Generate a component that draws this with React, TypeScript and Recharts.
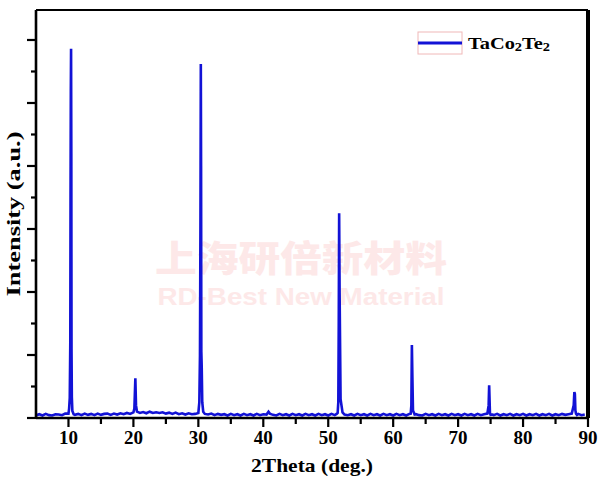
import React from 'react';
import { LineChart, Line, XAxis, YAxis, ReferenceLine, Legend, Label } from 'recharts';

const twoTheta = [
  5, 5.5, 6, 6.5, 7, 7.5, 8, 8.5, 9, 9.5, 10, 10.1, 10.2, 10.28, 10.32, 10.36, 10.4, 10.44, 10.47, 10.52, 10.6, 10.8,
  11, 11.5, 12, 12.5, 13, 13.5, 14, 14.5, 15, 15.5, 16, 16.5, 17, 17.5, 18, 18.5, 19, 19.5, 20, 20.15, 20.3, 20.4, 20.55,
  21, 21.5, 22, 22.5, 23, 23.5, 24, 24.5, 25, 25.5, 26, 26.5, 27, 27.5, 28, 28.5, 29, 29.5, 30, 30.15, 30.25, 30.32, 30.38,
  30.42, 30.46, 30.52, 30.6, 30.75, 31, 31.5, 32, 32.5, 33, 33.5, 34, 34.5, 35, 35.5, 36, 36.5, 37, 37.5, 38, 38.5, 39,
  39.5, 40, 40.5, 40.8, 41, 41.5, 42, 42.5, 43, 43.5, 44, 44.5, 45, 45.5, 46, 46.5, 47, 47.5, 48, 48.5, 49, 49.5, 50, 50.5,
  51, 51.3, 51.45, 51.55, 51.62, 51.68, 51.75, 51.9, 52.2, 52.5, 53, 53.5, 54, 54.5, 55, 55.5, 56, 56.5, 57, 57.5, 58,
  58.5, 59, 59.5, 60, 60.5, 61, 61.5, 62, 62.5, 62.7, 62.8, 62.88, 62.95, 63.05, 63.3, 63.5, 64, 64.5, 65, 65.5, 66, 66.5,
  67, 67.5, 68, 68.5, 69, 69.5, 70, 70.5, 71, 71.5, 72, 72.5, 73, 73.5, 74, 74.5, 74.7, 74.78, 74.84, 74.9, 75, 75.3, 75.5,
  76, 76.5, 77, 77.5, 78, 78.5, 79, 79.5, 80, 80.5, 81, 81.5, 82, 82.5, 83, 83.5, 84, 84.5, 85, 85.5, 86, 86.5, 87, 87.5,
  87.8, 87.9, 87.98, 88.06, 88.15, 88.3, 88.5, 89, 89.5, 90,
];

const intensity = [
  40, 60, 40, 65, 45, 40, 60, 55, 45, 70, 70, 150, 320, 1200, 3570, 5180, 5860, 4200, 1100, 330, 110, 60,
  50, 65, 45, 70, 50, 65, 45, 70, 50, 65, 70, 50, 70, 55, 75, 60, 80, 65, 90, 150, 630, 200, 100,
  80, 95, 75, 100, 80, 90, 80, 90, 70, 85, 65, 85, 60, 75, 55, 75, 60, 65, 80, 250, 1000, 3000, 5620,
  4000, 1050, 800, 250, 100, 65, 55, 70, 45, 65, 50, 60, 40, 65, 45, 60, 40, 65, 45, 60, 40, 65,
  45, 60, 55, 100, 70, 50, 40, 65, 45, 60, 40, 65, 45, 60, 40, 65, 45, 60, 40, 65, 45, 60, 40, 65, 45,
  65, 80, 250, 1500, 3250, 2000, 300, 90, 55, 45, 60, 40, 65, 45, 60, 40, 65, 45, 60, 40, 65,
  45, 60, 40, 65, 45, 60, 40, 65, 70, 200, 1160, 700, 120, 55, 60, 45, 40, 65, 45, 60, 40,
  65, 45, 60, 40, 65, 45, 60, 40, 65, 45, 60, 40, 65, 45, 60, 70, 200, 520, 300, 80, 50, 55,
  45, 65, 40, 60, 45, 65, 40, 60, 45, 65, 40, 60, 45, 65, 40, 60, 45, 65, 40, 60, 45, 65, 50, 60,
  70, 200, 410, 380, 120, 70, 50, 65, 45, 55,
];

const xTicks = [5, 10, 15, 20, 25, 30, 35, 40, 45, 50, 55, 60, 65, 70, 75, 80, 85, 90];
const xLabels = [10, 20, 30, 40, 50, 60, 70, 80, 90];
const yTicks = [0, 500, 1000, 1500, 2000, 2500, 3000, 3500, 4000, 4500, 5000, 5500, 6000];
const seriesName = 'TaCo2Te2';

const data = twoTheta.map((t, i) => ({ t, v: intensity[i] }));

const serif = '"Liberation Serif", "Times New Roman", serif';
const blue = '#1212d6';

const YTick = (props: any) => {
  const { x, y, payload } = props;
  const major = payload.value % 1000 === 0;
  return <line x1={x} x2={x - (major ? 9 : 5)} y1={y} y2={y} stroke="#000" strokeWidth={2.2} />;
};

const XTick = (props: any) => {
  const { x, y, payload } = props;
  const v = payload.value;
  if (v === 5) return <g />;
  const major = xLabels.includes(v);
  return (
    <g>
      <line x1={x} x2={x} y1={y} y2={y + (major ? 9 : 6)} stroke="#000" strokeWidth={2.2} />
      {major && (
        <text x={x} y={y + 26} textAnchor="middle" fontFamily={serif} fontWeight="bold" fontSize={19} fill="#000">
          {v}
        </text>
      )}
    </g>
  );
};

const LegendContent = () => (
  <svg width={150} height={30} style={{ display: 'block' }}>
    <rect x={2} y={3} width={44} height={22} fill="none" stroke="#f0b8b8" strokeWidth={1} />
    <line x1={2} x2={46} y1={14} y2={14} stroke={blue} strokeWidth={3} />
    <text x={52} y={20} fontFamily={serif} fontWeight="bold" fontSize={17} fill="#000" textLength={82} lengthAdjust="spacingAndGlyphs">
      TaCo<tspan fontSize={12} dy={2}>2</tspan><tspan dy={-2}>Te</tspan><tspan fontSize={12} dy={2}>2</tspan>
    </text>
  </svg>
);

export default function App() {
  return (
    <div style={{ position: 'absolute', left: 0, top: 0, width: 600, height: 481, background: '#fff' }}>
      <svg width={600} height={481} style={{ position: 'absolute', left: 0, top: 0 }}>
        <text x={301} y={272} textAnchor="middle" fill="#fde8e8" fontFamily='"Noto Sans CJK SC", sans-serif' fontWeight={900} fontSize={36} textLength={292} lengthAdjust="spacingAndGlyphs">
          上海研倍新材料
        </text>
        <text x={301} y={305} textAnchor="middle" fill="#fde8e8" fontFamily='"Liberation Sans", Arial, sans-serif' fontWeight="bold" fontSize={24} textLength={287} lengthAdjust="spacingAndGlyphs">
          RD-Best New Material
        </text>
      </svg>
      <div style={{ position: 'absolute', left: 0, top: 0 }}>
        <LineChart width={600} height={481} data={data} margin={{ top: 10, right: 12, left: 0, bottom: 0 }}>
          <XAxis
            dataKey="t"
            type="number"
            domain={[5, 90]}
            ticks={xTicks}
            allowDataOverflow
            interval={0}
            height={63}
            tickSize={0}
            tickMargin={0}
            tickLine={false}
            tick={<XTick />}
            axisLine={{ stroke: '#000', strokeWidth: 2.6 }}
          >
            <Label
              content={(p: any) => {
                const vb = p.viewBox;
                return (
                  <text x={vb.x + vb.width / 2} y={472} textAnchor="middle" fontFamily={serif} fontWeight="bold" fontSize={19} fill="#000" textLength={122} lengthAdjust="spacingAndGlyphs">
                    2Theta (deg.)
                  </text>
                );
              }}
            />
          </XAxis>
          <YAxis
            type="number"
            domain={[0, 6476]}
            ticks={yTicks}
            allowDataOverflow
            interval={0}
            width={36}
            tickSize={0}
            tickMargin={0}
            tickLine={false}
            tick={<YTick />}
            axisLine={{ stroke: '#000', strokeWidth: 2.6 }}
          >
            <Label
              content={(p: any) => {
                const vb = p.viewBox;
                const cy = vb.y + vb.height / 2;
                return (
                  <text x={20} y={cy} transform={`rotate(-90 20 ${cy})`} textAnchor="middle" fontFamily={serif} fontWeight="bold" fontSize={19} fill="#000" textLength={165} lengthAdjust="spacingAndGlyphs">
                    Intensity (a.u.)
                  </text>
                );
              }}
            />
          </YAxis>
          <ReferenceLine y={6476} stroke="#000" strokeWidth={2.2} ifOverflow="extendDomain" />
          <ReferenceLine x={90} stroke="#000" strokeWidth={4} />
          <Legend
            verticalAlign="middle"
            align="center"
            layout="horizontal"
            content={<LegendContent />}
            wrapperStyle={{ position: 'absolute', left: 416, top: 29, width: 150, height: 30 }}
          />
          <Line
            name={seriesName}
            type="linear"
            dataKey="v"
            stroke={blue}
            strokeWidth={2.6}
            dot={false}
            isAnimationActive={false}
          />
        </LineChart>
      </div>
    </div>
  );
}
